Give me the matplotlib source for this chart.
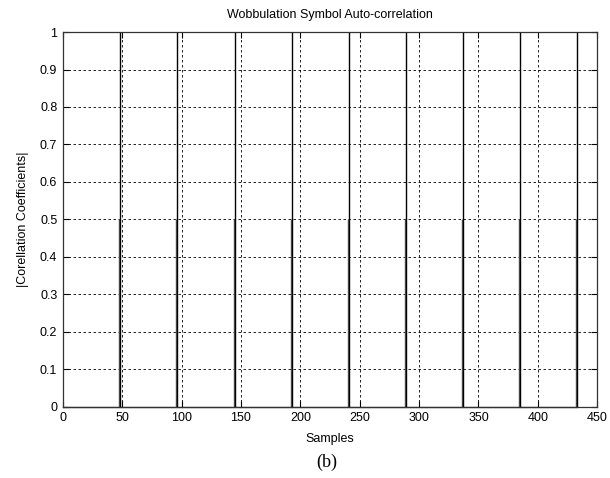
import matplotlib
matplotlib.use("Agg")
import matplotlib.pyplot as plt
import numpy as np

# Auto-correlation magnitude of the wobbulation symbol
n_samples = 434
peak_lags = [48, 96, 145, 193, 241, 289, 337, 385, 433]
peak_values = [1.0, 1.0, 1.0, 1.0, 1.0, 1.0, 1.0, 1.0, 1.0]
side_lags = [47, 95, 144, 192, 240, 288, 336, 384, 432]
side_values = [0.5, 0.5, 0.5, 0.5, 0.5, 0.5, 0.5, 0.5, 0.5]

x_ticks = [0, 50, 100, 150, 200, 250, 300, 350, 400, 450]
y_ticks = [0, 0.1, 0.2, 0.3, 0.4, 0.5, 0.6, 0.7, 0.8, 0.9, 1.0]
y_tick_labels = ["0", "0.1", "0.2", "0.3", "0.4", "0.5", "0.6", "0.7", "0.8", "0.9", "1"]

lags = np.arange(n_samples)
baseline = np.zeros(n_samples)

plt.rcParams["font.family"] = ["Liberation Sans", "DejaVu Sans"]

fig = plt.figure(figsize=(6.1, 4.78), dpi=100)
ax = fig.add_axes([0.103, 0.149, 0.876, 0.784])

# zero floor between peaks, then the side lobes and main peaks as spikes
ax.plot(lags, baseline, color="black", linewidth=0.9, clip_on=False)
ax.vlines(side_lags, 0, side_values, color="#555555", linewidth=1.0)
ax.vlines(peak_lags, 0, peak_values, color="black", linewidth=1.0)

ax.set_xlim(0, 450)
ax.set_ylim(0, 1)
ax.set_xticks(x_ticks)
ax.set_yticks(y_ticks)
ax.set_yticklabels(y_tick_labels)
ax.tick_params(direction="in", length=4, labelsize=9, top=True, right=True,
               width=0.8, pad=4)
ax.grid(True, color="black", linestyle=(0, (3, 3)), linewidth=0.6)
for s in ax.spines.values():
    s.set_linewidth(0.9)
    s.set_color("#333333")

ax.set_title("Wobbulation Symbol Auto-correlation", fontsize=9, pad=10)
ax.set_xlabel("Samples", fontsize=9, labelpad=6)
ax.set_ylabel("|Corellation Coefficients|", fontsize=9, labelpad=8)

fig.text(0.536, 0.033, "(b)", family=["Liberation Serif", "DejaVu Serif"],
         fontsize=13, ha="center", va="center")

fig.savefig("out.png", dpi=100)
